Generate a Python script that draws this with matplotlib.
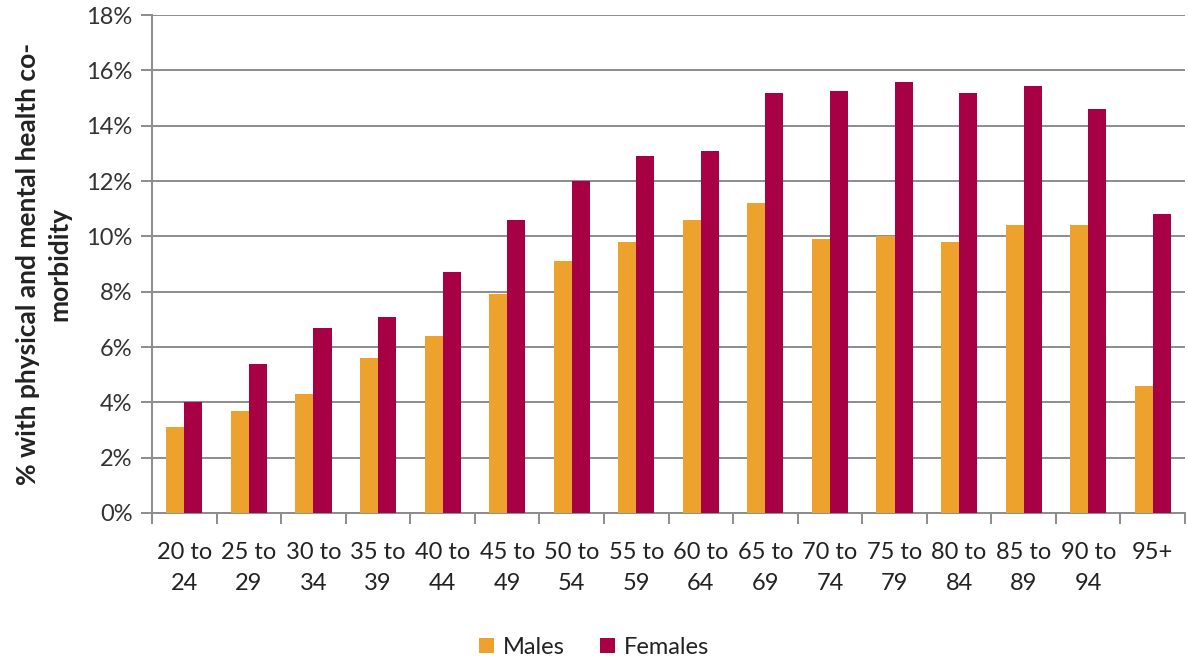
import matplotlib
matplotlib.use("Agg")
import matplotlib.pyplot as plt
import numpy as np
from matplotlib.ticker import FuncFormatter, MultipleLocator

categories = ["20 to\n24", "25 to\n29", "30 to\n34", "35 to\n39", "40 to\n44", "45 to\n49",
              "50 to\n54", "55 to\n59", "60 to\n64", "65 to\n69", "70 to\n74", "75 to\n79",
              "80 to\n84", "85 to\n89", "90 to\n94", "95+"]
males = [3.1, 3.7, 4.3, 5.6, 6.4, 7.9, 9.1, 9.8, 10.6, 11.2, 9.9, 10.0, 9.8, 10.4, 10.4, 4.6]
females = [4.0, 5.4, 6.7, 7.1, 8.7, 10.6, 12.0, 12.9, 13.1, 15.2, 15.25, 15.6, 15.2, 15.45, 14.6, 10.8]
series_names = ["Males", "Females"]
colors = ["#EDA22E", "#A80045"]

plt.rcParams['font.family'] = ['Lato', 'DejaVu Sans']

fig = plt.figure(figsize=(11.88, 6.58), dpi=100)
ax = fig.add_axes([0.128, 0.2204, 0.8695, 0.7566])

x = np.arange(len(categories))
w = 0.28
ax.bar(x - w / 2, males, width=w, color=colors[0], label=series_names[0], zorder=3)
ax.bar(x + w / 2, females, width=w, color=colors[1], label=series_names[1], zorder=3)

ax.set_ylim(0, 18)
ax.set_xlim(-0.5, len(categories) - 0.5)
ax.yaxis.set_major_locator(MultipleLocator(2))
ax.yaxis.set_major_formatter(FuncFormatter(lambda v, p: f"{v:.0f}%"))
ax.grid(axis='y', color='#8c8c8c', linewidth=1.4, zorder=0)

ax.set_xticks(x)
ax.set_xticklabels(categories, fontsize=17, color='#222222', linespacing=1.6)
ax.set_xticks(np.arange(len(categories) + 1) - 0.5, minor=True)
ax.tick_params(axis='x', which='major', length=0, pad=21)
ax.tick_params(axis='x', which='minor', length=8, width=1.4, color='#8c8c8c')
ax.tick_params(axis='y', length=8, width=1.4, color='#8c8c8c', labelsize=17, labelcolor='#333333', pad=6)

for s in ['top', 'right']:
    ax.spines[s].set_visible(False)
for s in ['left', 'bottom']:
    ax.spines[s].set_color('#8c8c8c')
    ax.spines[s].set_linewidth(1.4)

ax.set_ylabel("% with physical and mental health co-\nmorbidity", fontsize=19,
              fontweight='bold', color='#222222', labelpad=11, linespacing=1.35)

fig.legend(loc='lower center', bbox_to_anchor=(0.5, -0.032), ncol=2, frameon=False,
           fontsize=17, handlelength=0.65, handleheight=0.65, columnspacing=1.5,
           handletextpad=0.35, labelcolor='#222222')

fig.savefig("out.png", dpi=100)
